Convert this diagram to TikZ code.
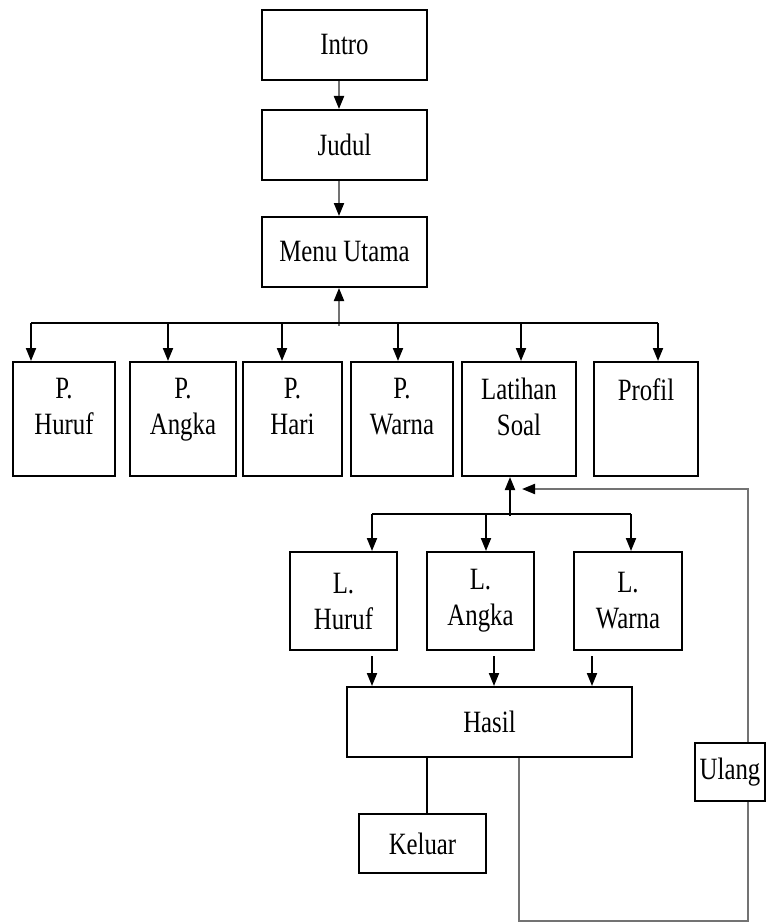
\documentclass[tikz,border=0pt]{standalone}
\usepackage{fontspec}
\setmainfont{Liberation Serif}[FakeStretch=0.8]
\usetikzlibrary{arrows.meta}

\tikzset{
  box/.style={draw, rectangle, line width=2pt, inner sep=0pt, align=center, font=\fontsize{31}{36}\selectfont},
  topbox/.style={box, minimum height=114pt},
  toptext/.style={anchor=north, yshift=-17pt, inner sep=0pt, align=center, font=\fontsize{31}{36}\selectfont},
  line/.style={line width=2pt},
  arr/.style={line, -{Triangle[length=13pt, width=10pt, color=black]}},
  fade/.style={draw=black!55},
}

\begin{document}
\begin{tikzpicture}[x=1pt, y=-1pt]
        \useasboundingbox (0,0) rectangle (766,923);

        % Nodes
        \node[box, minimum width=165pt, minimum height=70pt] (intro) at (344.5, 45) {Intro};
        \node[box, minimum width=165pt, minimum height=70pt] (judul) at (344.5, 145) {Judul};
        \node[box, minimum width=165pt, minimum height=70pt] (menu) at (344.5, 252) {Menu Utama};

        \node[topbox, minimum width=102pt, label={[toptext]90:{P.\\Huruf}}] (phuruf) at (64, 419) {};
        \node[topbox, minimum width=106pt, label={[toptext]90:{P.\\Angka}}] (pangka) at (183, 419) {};
        \node[topbox, minimum width=99pt, label={[toptext]90:{P.\\Hari}}] (phari) at (292.5, 419) {};
        \node[topbox, minimum width=102pt, label={[toptext]90:{P.\\Warna}}] (pwarna) at (402, 419) {};
        \node[topbox, minimum width=114pt, label={[toptext]90:{Latihan\\Soal}}] (latihan) at (519, 419) {};
        \node[topbox, minimum width=104pt, label={[toptext]90:{Profil}}] (profil) at (646, 419) {};

        \node[box, minimum width=107pt, minimum height=98pt] (lhuruf) at (343.5, 601) {L.\\Huruf};
        \node[box, minimum width=107pt, minimum height=98pt] (langka) at (480.5, 601) {L.\\Angka};
        \node[box, minimum width=108pt, minimum height=98pt] (lwarna) at (628, 601) {L.\\Warna};

        \node[box, minimum width=285pt, minimum height=70pt] (hasil) at (489.5, 722) {Hasil};
        \node[box, minimum width=127pt, minimum height=59pt] (keluar) at (422.5, 843.5) {Keluar};
        \node[box, minimum width=70pt, minimum height=58pt] (ulang) at (730, 772) {Ulang};

        \coordinate (back) at (522, 489);

        % Arrows
        \draw[arr, fade] ([xshift=-5.5pt]intro.south) -- ([xshift=-5.5pt]judul.north);
        \draw[arr, fade] ([xshift=-5.5pt]judul.south) -- ([xshift=-5.5pt]menu.north);
        \draw[arr, fade] ([xshift=-5.5pt, yshift=-38pt]menu.south) -- ([xshift=-5.5pt]menu.south);

        \draw[line] ([xshift=-33pt, yshift=38pt]phuruf.north) -- ([xshift=12pt, yshift=38pt]profil.north);
        \foreach \n/\dx in {phuruf/-33, pangka/-15, phari/-10.5, pwarna/-4, latihan/2, profil/12}
          \draw[arr] ([xshift=\dx pt, yshift=38pt]\n.north) -- ([xshift=\dx pt]\n.north);

        \draw[arr] ([xshift=-9pt, yshift=-39pt]latihan.south) -- ([xshift=-9pt]latihan.south);
        \draw[line] ([xshift=28.5pt, yshift=37pt]lhuruf.north) -- ([xshift=3pt, yshift=37pt]lwarna.north);
        \foreach \n/\dx in {lhuruf/28.5, langka/5.5, lwarna/3}
          \draw[arr] ([xshift=\dx pt, yshift=37pt]\n.north) -- ([xshift=\dx pt]\n.north);

        \draw[arr] ([xshift=28.5pt, yshift=-5pt]lhuruf.south) -- ([xshift=-117.5pt]hasil.north);
        \draw[arr] ([xshift=13.5pt, yshift=-5pt]langka.south) -- ([xshift=4.5pt]hasil.north);
        \draw[arr] ([xshift=-36pt, yshift=-5pt]lwarna.south) -- ([xshift=102.5pt]hasil.north);

        \draw[line] ([xshift=-62.5pt]hasil.south) -- ([xshift=4.5pt]keluar.north);
        \draw[line, fade] ([xshift=29.5pt]hasil.south) -- ++(0,163) -| ([xshift=17.5pt]ulang.south);
        \draw[arr, fade] ([xshift=17.5pt]ulang.north) |- (back);
\end{tikzpicture}
\end{document}
